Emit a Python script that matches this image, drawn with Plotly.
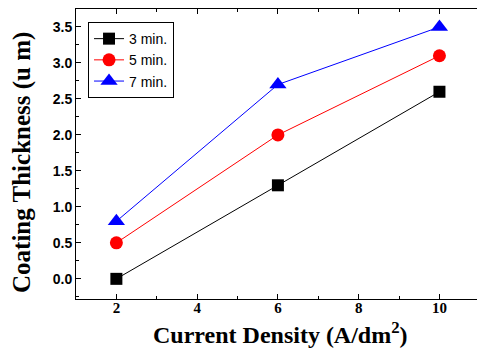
import plotly.graph_objects as go

current_density = [2, 6, 10]
t3 = [0.0, 1.3, 2.6]
t5 = [0.5, 2.0, 3.1]
t7 = [0.8, 2.7, 3.5]
series_names = ["3 min.", "5 min.", "7 min."]

fig = go.Figure()
specs = [(t3, "black", "square", 12), (t5, "red", "circle", 13), (t7, "blue", "triangle-up", 15)]
for name, (vals, col, sym, sz) in zip(series_names, specs):
    fig.add_trace(go.Scatter(
        x=current_density, y=vals, name=name, mode="lines+markers",
        line=dict(color=col, width=1),
        marker=dict(symbol=sym, size=sz, color=col),
    ))

fig.update_layout(
    width=477, height=349,
    margin=dict(l=76, r=0, t=9, b=50),
    plot_bgcolor="white", paper_bgcolor="white",
    showlegend=True,
    legend=dict(x=0.03, y=0.955, xanchor="left", yanchor="top",
                bordercolor="black", borderwidth=1, bgcolor="white",
                font=dict(family="Liberation Sans", size=14, color="black"),
                tracegroupgap=0, itemsizing="trace", itemwidth=30),
    font=dict(family="Liberation Sans", color="black"),
)
fig.update_xaxes(
    range=[1, 10.93], tickvals=[2, 4, 6, 8, 10], automargin=False,
    showline=True, linecolor="black", linewidth=1, mirror="ticks",
    ticks="inside", ticklen=5, tickcolor="black",
    minor=dict(ticks="inside", ticklen=3, dtick=1, tick0=1, tickcolor="black"),
    showgrid=False, zeroline=False, ticklabelstandoff=-5,
    tickfont=dict(family="Liberation Serif", size=15, color="black", weight="bold"),
)
fig.update_yaxes(
    range=[-0.28, 3.75], tickvals=[0, 0.5, 1, 1.5, 2, 2.5, 3, 3.5], automargin=False,
    tickformat=".1f",
    showline=True, linecolor="black", linewidth=1, mirror=False,
    ticks="inside", ticklen=5, tickcolor="black",
    minor=dict(ticks="inside", ticklen=3, dtick=0.25, tick0=0, tickcolor="black"),
    showgrid=False, zeroline=False,
    tickfont=dict(family="Liberation Sans", size=14, color="black", weight="bold"),
)
fig.add_annotation(
    text="Current Density (A/dm<sup>2</sup>)", xref="paper", yref="paper",
    x=(280 - 76) / 401, y=-(333 - 299) / 290, xanchor="center", yanchor="middle",
    showarrow=False,
    font=dict(family="Liberation Serif", size=24, color="black", weight="bold"),
)
fig.add_annotation(
    text="Coating Thickness (u m)", xref="paper", yref="paper",
    x=-(76 - 22) / 401, y=(299 - 163) / 290, xanchor="center", yanchor="middle",
    textangle=-90, showarrow=False,
    font=dict(family="Liberation Serif", size=25, color="black", weight="bold"),
)
fig.write_html(
    "out.html",
    config={"displayModeBar": False},
    post_script="document.body.style.margin='0';document.body.style.overflow='hidden';",
)
